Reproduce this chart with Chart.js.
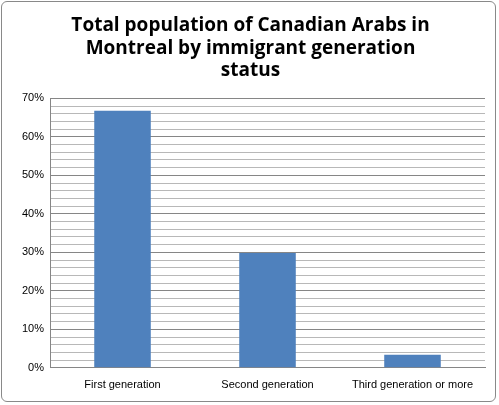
<!DOCTYPE html>
<html>
<head>
<meta charset="utf-8">
<script src="https://cdn.jsdelivr.net/npm/chart.js@4"></script>
<style>
    body { margin: 0; background: #fff; }
    #wrap { position: absolute; left: 1px; top: 1px; width: 495px; height: 401px; border: 1px solid #898989; border-radius: 6px; box-sizing: border-box; }
</style>
</head>
<body>
<div id="wrap"><canvas id="chart"></canvas></div>
<script>
// 資料
const categories = ['First generation', 'Second generation', 'Third generation or more'];
const shares = [66.8, 29.8, 3.4];

const ctx = document.getElementById('chart').getContext('2d');

new Chart(ctx, {
    type: 'bar',
    data: {
        labels: categories,
        datasets: [{
            data: shares,
            backgroundColor: '#4f81bd',
            categoryPercentage: 1,
            barPercentage: 0.39
        }]
    },
    options: {
        responsive: true,
        maintainAspectRatio: false,
        animation: false,
        layout: { padding: { left: 14, right: 10, top: 6, bottom: 6 } },
        plugins: {
            legend: { display: false },
            tooltip: { enabled: false },
            title: {
                display: true,
                text: ['Total population of Canadian Arabs in', 'Montreal by immigrant generation', 'status'],
                color: '#000',
                font: { family: 'Open Sans', size: 19, weight: 'bold' },
                padding: { top: 6, bottom: 16 },
                lineHeight: 1.55
            }
        },
        scales: {
            x: {
                grid: { display: false },
                border: { color: '#868686' },
                ticks: { color: '#000', font: { family: 'Liberation Sans', size: 11 }, maxRotation: 0 }
            },
            y: {
                min: 0,
                max: 70,
                border: { color: '#868686' },
                grid: {
                    color: c => (c.tick.value % 10 === 0 ? '#868686' : '#b8b8b8'),
                    tickLength: 0
                },
                ticks: {
                    stepSize: 2,
                    autoSkip: false,
                    padding: 6,
                    color: '#000',
                    font: { family: 'Liberation Sans', size: 11 },
                    callback: v => (v % 10 === 0 ? v + '%' : '')
                }
            }
        }
    }
});
</script>
</body>
</html>
